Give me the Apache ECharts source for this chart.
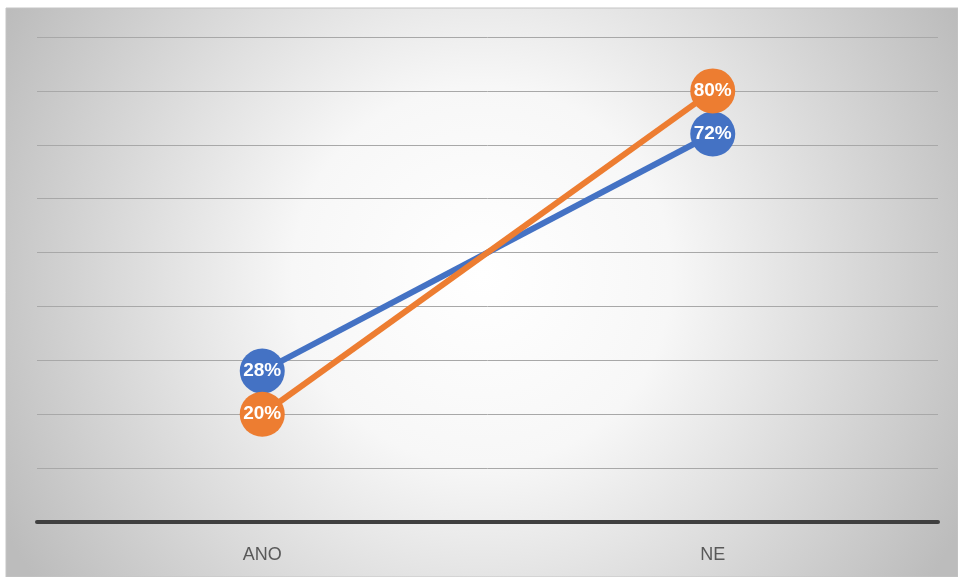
<!DOCTYPE html>
<html><head><meta charset="utf-8">
<script src="https://cdn.jsdelivr.net/npm/echarts@6/dist/echarts.min.js"></script>
<style>html,body{margin:0;padding:0;background:#fff;}#c{width:958px;height:577px;}</style>
</head><body><div id="c"></div>
<script>
const categories = ['ANO', 'NE'];
const seriesBlue = [0.28, 0.72];
const seriesOrange = [0.20, 0.80];
const yMin = 0, yMax = 0.9, yStep = 0.1;

const chart = echarts.init(document.getElementById('c'), null, {renderer: 'canvas'});
const labelCfg = {
  show: true, position: 'inside', color: '#fff', fontWeight: 'bold', fontSize: 19,
  fontFamily: 'Liberation Sans, Arial, sans-serif',
  formatter: p => Math.round(p.value * 100) + '%'
};
chart.setOption({
  animation: false,
  graphic: [{
    type: 'rect', z: -10, silent: true,
    shape: {x: 6, y: 8, width: 952, height: 569},
    style: {
      fill: new echarts.graphic.RadialGradient(0.5, 0.47, 0.95, [
        {offset: 0, color: '#ffffff'},
        {offset: 0.35, color: '#f7f7f7'},
        {offset: 1, color: '#bcbcbc'}
      ]),
      stroke: '#c4c4c4', lineWidth: 1
    }
  }],
  grid: {left: 37, right: 20, top: 37, bottom: 55, containLabel: false},
  xAxis: {
    type: 'category', data: categories, boundaryGap: true,
    axisLine: {show: true, lineStyle: {color: '#404040', width: 4}},
    axisTick: {show: false},
    axisLabel: {color: '#595959', fontSize: 18, margin: 24, fontFamily: 'Liberation Sans, Arial, sans-serif'},
    splitLine: {show: false}
  },
  yAxis: {
    type: 'value', min: yMin, max: yMax, interval: yStep,
    axisLine: {show: false}, axisTick: {show: false}, axisLabel: {show: false},
    splitLine: {show: true, lineStyle: {color: '#a8a8a8', width: 1}}
  },
  series: [
    {
      name: 'A', type: 'line', data: seriesBlue, z: 3,
      symbol: 'circle', symbolSize: 45,
      lineStyle: {color: '#4472C4', width: 6},
      itemStyle: {color: '#4472C4'},
      label: labelCfg
    },
    {
      name: 'B', type: 'line', data: seriesOrange, z: 4,
      symbol: 'circle', symbolSize: 45,
      lineStyle: {color: '#ED7D31', width: 6},
      itemStyle: {color: '#ED7D31'},
      label: labelCfg
    }
  ]
});
</script></body></html>
